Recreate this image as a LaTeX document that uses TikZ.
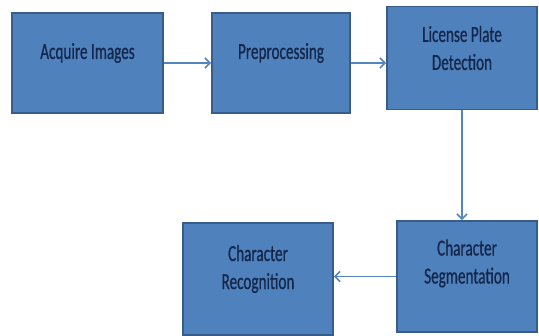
\documentclass[tikz,border=0pt]{standalone}
\usepackage{fontspec}
\usepackage{tikz}
\usetikzlibrary{arrows.meta, positioning, calc}
\newfontfamily\stagefont[FakeStretch=0.66, FakeBold=0.6]{Carlito}
\definecolor{stageFill}{HTML}{4F81BD}
\definecolor{stageBorder}{HTML}{385D8A}
\definecolor{stageInk}{HTML}{14274A}
\definecolor{flowLine}{HTML}{5585C0}

\begin{document}
\begin{tikzpicture}[x=1pt, y=-1pt,
  stage/.style={draw=stageBorder, line width=1.8pt, fill=stageFill, inner sep=0pt},
  stageText/.style={text=stageInk, font=\stagefont\fontsize{23}{28}\selectfont, align=center, yshift=10pt},
  flow/.style={draw=flowLine, line width=1.6pt, -{Straight Barb[length=5pt, width=10pt]}}]
  \useasboundingbox (0,0) rectangle (539,336);
  \node[stage, minimum width=151pt, minimum height=100pt, label={[stageText]center:Acquire Images}] (acq) at (87.5,63) {};
  \node[stage, minimum width=138pt, minimum height=100pt, label={[stageText]center:Preprocessing}] (pre) at (281,63) {};
  \node[stage, minimum width=150pt, minimum height=103pt, label={[stageText]center:{License Plate\\Detection}}] (lpd) at (462,58) {};
  \node[stage, minimum width=140pt, minimum height=111pt, label={[stageText, yshift=3pt]center:{Character\\Segmentation}}] (seg) at (467,276.5) {};
  \node[stage, minimum width=150pt, minimum height=112pt, label={[stageText]center:{Character\\Recognition}}] (rec) at (258,279) {};
  % connectors
  \draw[flow] (acq.east) -- (pre.west);
  \draw[flow] (pre.east) -- (pre.east -| lpd.west);
  \draw[flow] (lpd.south) -- (lpd.south |- seg.north);
  \draw[flow] (seg.west) -- (seg.west -| rec.east);
\end{tikzpicture}
\end{document}
